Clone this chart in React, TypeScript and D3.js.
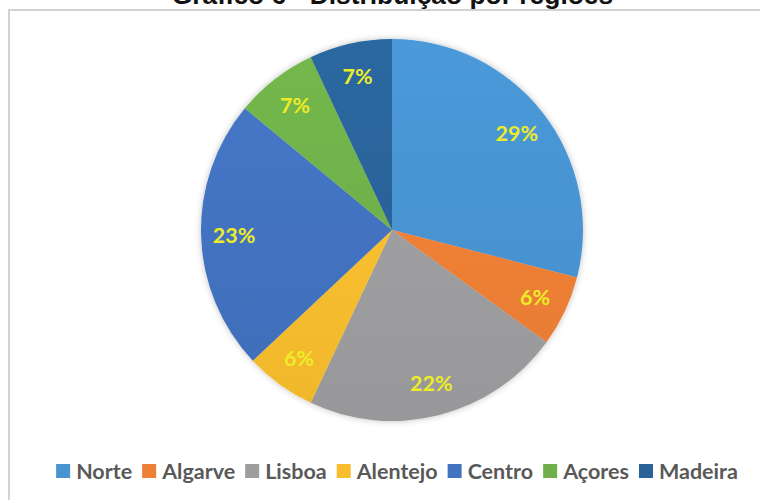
import React, { useEffect, useRef } from "react";
import * as d3 from "d3";

const categories = ["Norte", "Algarve", "Lisboa", "Alentejo", "Centro", "Açores", "Madeira"];
const values = [29, 6, 22, 6, 23, 7, 7];
const colors = ["#4893d0", "#ee7f36", "#9e9ea0", "#f9be2e", "#4272c0", "#6fb04a", "#2a6399"];
const title = "Gráfico 6 - Distribuição por regiões";

const W = 760;
const H = 500;

export default function App() {
  const ref = useRef<SVGSVGElement | null>(null);

  useEffect(() => {
    const svg = d3.select(ref.current);
    svg.selectAll("*").remove();

    const defs = svg.append("defs");
    const filter = defs.append("filter").attr("id", "shadow").attr("x", "-20%").attr("y", "-20%").attr("width", "140%").attr("height", "140%");
    filter.append("feDropShadow").attr("dx", 0).attr("dy", 0).attr("stdDeviation", 3).attr("flood-color", "#000").attr("flood-opacity", 0.25);

    const cx = 392, cy = 230, r = 191;

    colors.forEach((c, i) => {
      const g = defs.append("linearGradient").attr("id", `g${i}`)
        .attr("gradientUnits", "userSpaceOnUse")
        .attr("x1", 0).attr("y1", -r).attr("x2", 0).attr("y2", r);
      g.append("stop").attr("offset", "0%").attr("stop-color", d3.color(c)!.brighter(0.12).formatHex());
      g.append("stop").attr("offset", "100%").attr("stop-color", d3.color(c)!.darker(0.1).formatHex());
    });

    svg.append("rect").attr("x", 0).attr("y", 0).attr("width", W).attr("height", H).attr("fill", "#fff");

    // frame
    svg.append("rect").attr("x", 9).attr("y", 10).attr("width", W + 20).attr("height", H + 20)
      .attr("fill", "none").attr("stroke", "#d2d2d2").attr("stroke-width", 2);

    // title (cut off at the top edge, as in the reference)
    svg.append("text").attr("x", 392.5).attr("y", 4).attr("text-anchor", "middle")
      .attr("font-family", "'Liberation Sans', Arial, sans-serif").attr("font-weight", "bold")
      .attr("font-size", 26.4).attr("fill", "#111").text(title);

    const pie = d3.pie<number>().sort(null).value((d) => d);
    const arcs = pie(values);
    const arc = d3.arc<d3.PieArcDatum<number>>().innerRadius(0).outerRadius(r);
    const labelArc = d3.arc<d3.PieArcDatum<number>>().innerRadius(158).outerRadius(158);

    const gs = svg.append("g").attr("filter", "url(#shadow)");
    gs.selectAll("path").data(arcs).join("path")
      .attr("d", arc)
      .attr("transform", `translate(${cx},${cy})`)
      .attr("fill", (_, i) => `url(#g${i})`);

    const total = d3.sum(values);
    const g = svg.append("g").attr("transform", `translate(${cx},${cy})`);
    g.selectAll("text").data(arcs).join("text")
      .attr("transform", (d) => `translate(${labelArc.centroid(d)})`)
      .attr("text-anchor", "middle").attr("dy", "0.36em")
      .attr("font-family", "Lato, 'Open Sans', sans-serif").attr("font-weight", "bold")
      .attr("font-size", 21.5).attr("fill", "#eeec28")
      .text((d) => `${Math.round((d.data / total) * 100)}%`);

    // legend
    const lg = svg.append("g");
    const sq = 14, gapTxt = 6, gapItem = 10, fs = 21.5;
    const items = categories.map((c, i) => {
      const t = lg.append("text").attr("font-family", "Lato, 'Open Sans', sans-serif")
        .attr("font-weight", "bold").attr("font-size", fs).attr("fill", "#595959").text(c);
      const w = (t.node() as SVGTextElement).getComputedTextLength();
      return { t, w, i };
    });
    const totalW = d3.sum(items, (d) => sq + gapTxt + d.w) + gapItem * (items.length - 1);
    let x = 397 - totalW / 2;
    const ly = 471;
    items.forEach((it) => {
      lg.append("rect").attr("x", x).attr("y", ly - 7).attr("width", sq).attr("height", sq).attr("fill", colors[it.i]);
      it.t.attr("x", x + sq + gapTxt).attr("y", ly).attr("dy", "0.36em");
      x += sq + gapTxt + it.w + gapItem;
    });
  }, []);

  return (
    <svg ref={ref} width={W} height={H} style={{ position: "absolute", left: 0, top: 0, display: "block" }} />
  );
}
